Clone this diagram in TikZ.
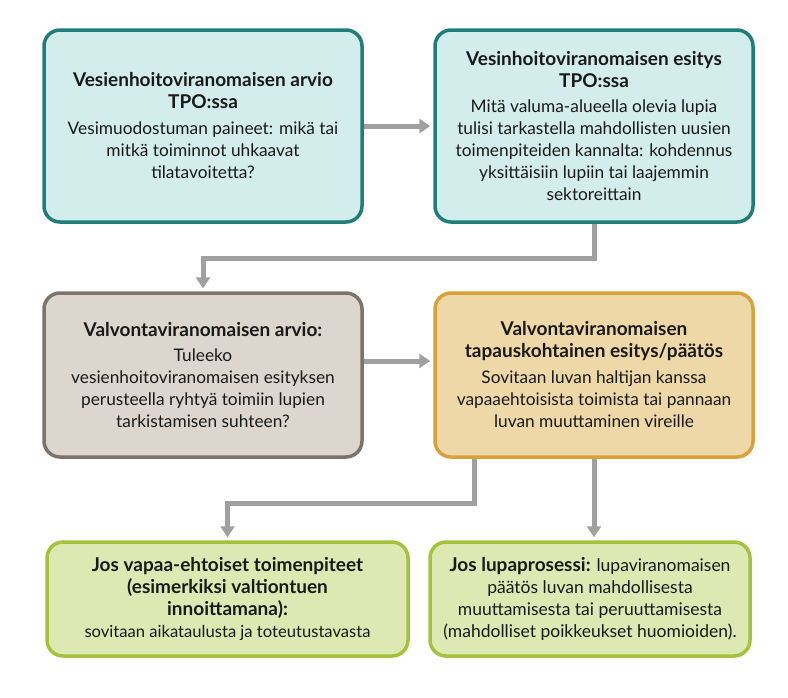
\documentclass[tikz,border=0pt]{standalone}
\usepackage{fontspec}
\setmainfont{Lato}
\usetikzlibrary{arrows.meta,calc}
\definecolor{tealB}{HTML}{1F7F78}
\definecolor{tealF}{HTML}{D3EDEC}
\definecolor{grayB}{HTML}{7C736A}
\definecolor{grayF}{HTML}{DCD6CE}
\definecolor{tanB}{HTML}{D8A23A}
\definecolor{tanF}{HTML}{EFD8A8}
\definecolor{greenB}{HTML}{A6C23C}
\definecolor{greenF}{HTML}{DDE8B2}
\definecolor{arr}{HTML}{A0A0A0}
\newcommand{\ttl}[1]{{\fontsize{19}{22}\selectfont\bfseries #1}}
\tikzset{
  box/.style={draw, line width=3.5pt, rounded corners=16pt, align=center,
    inner sep=0pt, font=\fontsize{17.3}{22}\selectfont, text=black!90},
  tealbox/.style={box, draw=tealB, fill=tealF},
  graybox/.style={box, draw=grayB, fill=grayF},
  tanbox/.style={box, draw=tanB, fill=tanF},
  greenbox/.style={box, draw=greenB, fill=greenF},
  conn/.style={draw=arr, line width=5pt, -{Triangle[width=14pt,length=11pt]}, shorten >=3pt}
}
\begin{document}
\begin{tikzpicture}[x=1pt,y=-1pt]
\useasboundingbox (0,0) rectangle (788,697);
\node[tealbox, minimum width=318pt, minimum height=192pt] (b1) at (203,126)
 {\ttl{Vesienhoitoviranomaisen arvio}\\\ttl{TPO:ssa}\\[4pt]
  Vesimuodostuman paineet: mikä tai\\mitkä toiminnot uhkaavat\\tilatavoitetta?};
\node[tealbox, minimum width=318pt, minimum height=192pt] (b2) at (594,126)
 {\ttl{Vesinhoitoviranomaisen esitys}\\\ttl{TPO:ssa}\\[3pt]
  Mitä valuma-alueella olevia lupia\\tulisi tarkastella mahdollisten uusien\\toimenpiteiden kannalta: kohdennus\\yksittäisiin lupiin tai laajemmin\\sektoreittain};
\node[graybox, minimum width=318pt, minimum height=164pt] (b3) at (203,375)
 {\ttl{Valvontaviranomaisen arvio:}\\[3pt]
  Tuleeko\\vesienhoitoviranomaisen esityksen\\perusteella ryhtyä toimiin lupien\\tarkistamisen suhteen?};
\node[tanbox, minimum width=318pt, minimum height=164pt] (b4) at (594,375)
 {\ttl{Valvontaviranomaisen}\\\ttl{tapauskohtainen esitys/päätös}\\[4pt]
  Sovitaan luvan haltijan kanssa\\vapaaehtoisista toimista tai pannaan\\luvan muuttaminen vireille};
\node[greenbox, minimum width=361pt, minimum height=114pt] (b5) at (227.5,599)
 {\ttl{Jos vapaa-ehtoiset toimenpiteet}\\\ttl{(esimerkiksi valtiontuen}\\\ttl{innoittamana):}\\
  {\fontsize{16.6}{22}\selectfont sovitaan aikataulusta ja toteutustavasta}};
\node[greenbox, minimum width=320pt, minimum height=114pt, font=\fontsize{17.5}{22}\selectfont] (b6) at (590,599)
 {\ttl{Jos lupaprosessi:} lupaviranomaisen\\päätös luvan mahdollisesta\\muuttamisesta tai peruuttamisesta\\(mahdolliset poikkeukset huomioiden).};
\draw[conn] (b1.east) -- (b2.west);
\draw[conn] (b2.south) -- ++(0,35) -| (b3.north);
\draw[conn] ([yshift=14pt]b3.east) -- ([yshift=14pt]b4.west);
\draw[conn] ([xshift=-120pt]b4.south) -- ++(0,45) -| (b5.north);
\draw[conn] (b4.south) -- (b4.south |- b6.north);
\end{tikzpicture}
\end{document}
